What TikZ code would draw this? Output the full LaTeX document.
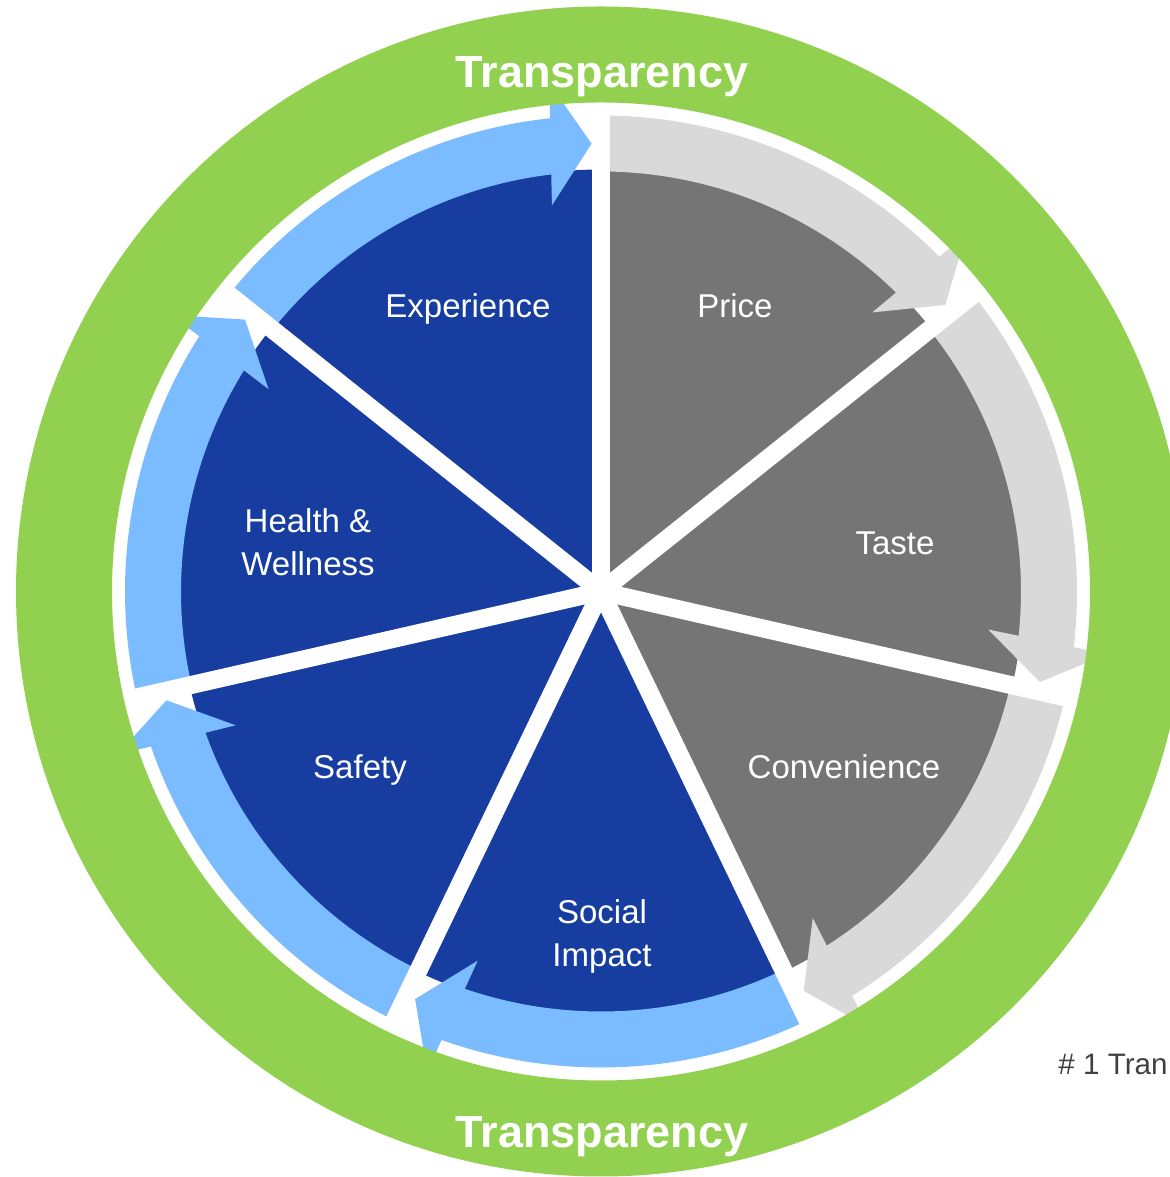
\documentclass[tikz,border=0pt]{standalone}
\usepackage{fontspec}
\setmainfont{Liberation Sans}
\usetikzlibrary{calc}

\definecolor{ringgreen}{RGB}{146,208,80}
\definecolor{wedgeblue}{RGB}{24,61,160}
\definecolor{bandblue}{RGB}{122,188,255}
\definecolor{wedgegray}{RGB}{117,117,117}
\definecolor{bandgray}{RGB}{217,217,217}
\definecolor{notegray}{RGB}{64,64,64}

\begin{document}
\begin{tikzpicture}[x=0.5pt,y=0.5pt,
  seglabel/.style={text=white,inner sep=0pt,align=center,
    font=\fontsize{16.5}{21.5}\selectfont},
  ringlabel/.style={text=white,inner sep=0pt,
    font=\bfseries\fontsize{22.5}{27}\selectfont},
  spoke/.style={draw=white,line width=9pt,line cap=butt}]

\useasboundingbox (0,0) rectangle (1170,1177);
\coordinate (C) at (601,585.5);
\def\sep{51.4285714}

% pie wedges, clockwise from the top
\foreach \k/\wc in {0/wedgegray,1/wedgegray,2/wedgegray,3/wedgeblue,4/wedgeblue,5/wedgeblue,6/wedgeblue}{
  \pgfmathsetmacro\s{90-\k*\sep}
  \pgfmathsetmacro\e{\s-\sep}
  \fill[\wc] (C) -- ($(C)+(\s:422)$) arc[start angle=\s,end angle=\e,radius=422] -- cycle;
}

% curved arrows around each wedge
\foreach \k/\bc in {0/bandgray,1/bandgray,2/bandgray,3/bandblue,4/bandblue,5/bandblue,6/bandblue}{
  \pgfmathsetmacro\s{90-\k*\sep}
  \pgfmathsetmacro\e{\s-\sep}
  \pgfmathsetmacro\t{\e+1.2}
  \pgfmathsetmacro\b{\t+4.2}
  \fill[\bc] ($(C)+(\s:420)$) arc[start angle=\s,end angle=\b,radius=420]
    -- ($(C)+(\b:476)$) arc[start angle=\b,end angle=\s,radius=476] -- cycle;
  \fill[\bc] ($(C)+(\t:448)$)
    -- ($(C)+(\t:448)+(\t+90:41)+(\t:61)$)
    -- ($(C)+(\t:448)+(\t+90:41)+(\t:-61)$) -- cycle;
}

% white separators
\foreach \k in {0,...,6}{
  \pgfmathsetmacro\a{90-\k*\sep}
  \coordinate (rim\k) at ($(C)+(\a:492)$);
  \draw[spoke] (C) -- (rim\k);
}

% outer ring
\fill[ringgreen,even odd rule] (C) circle[radius=585] (C) circle[radius=489];

% ring texts
\node[ringlabel,anchor=base] (toptext) at (602,1089) {Transparency};
\node[ringlabel,anchor=base] (bottomtext) at (602,29) {Transparency};

% segment labels
\node[seglabel,anchor=base] (price) at (735,859) {Price};
\node[seglabel,anchor=base] (taste) at (895,622) {Taste};
\node[seglabel,anchor=base] (convenience) at (844,398) {Convenience};
\node[seglabel] (social) at (602,241) {Social\\Impact};
\node[seglabel,anchor=base] (safety) at (360,398) {Safety};
\node[seglabel] (health) at (308,635) {Health \&\\Wellness};
\node[seglabel,anchor=base] (experience) at (468,859) {Experience};

% side note
\node[anchor=base west,inner sep=0pt,text=notegray,
  font=\fontsize{14.8}{18}\selectfont] (note) at (1058,102) {\# 1 Tran};
\end{tikzpicture}
\end{document}
